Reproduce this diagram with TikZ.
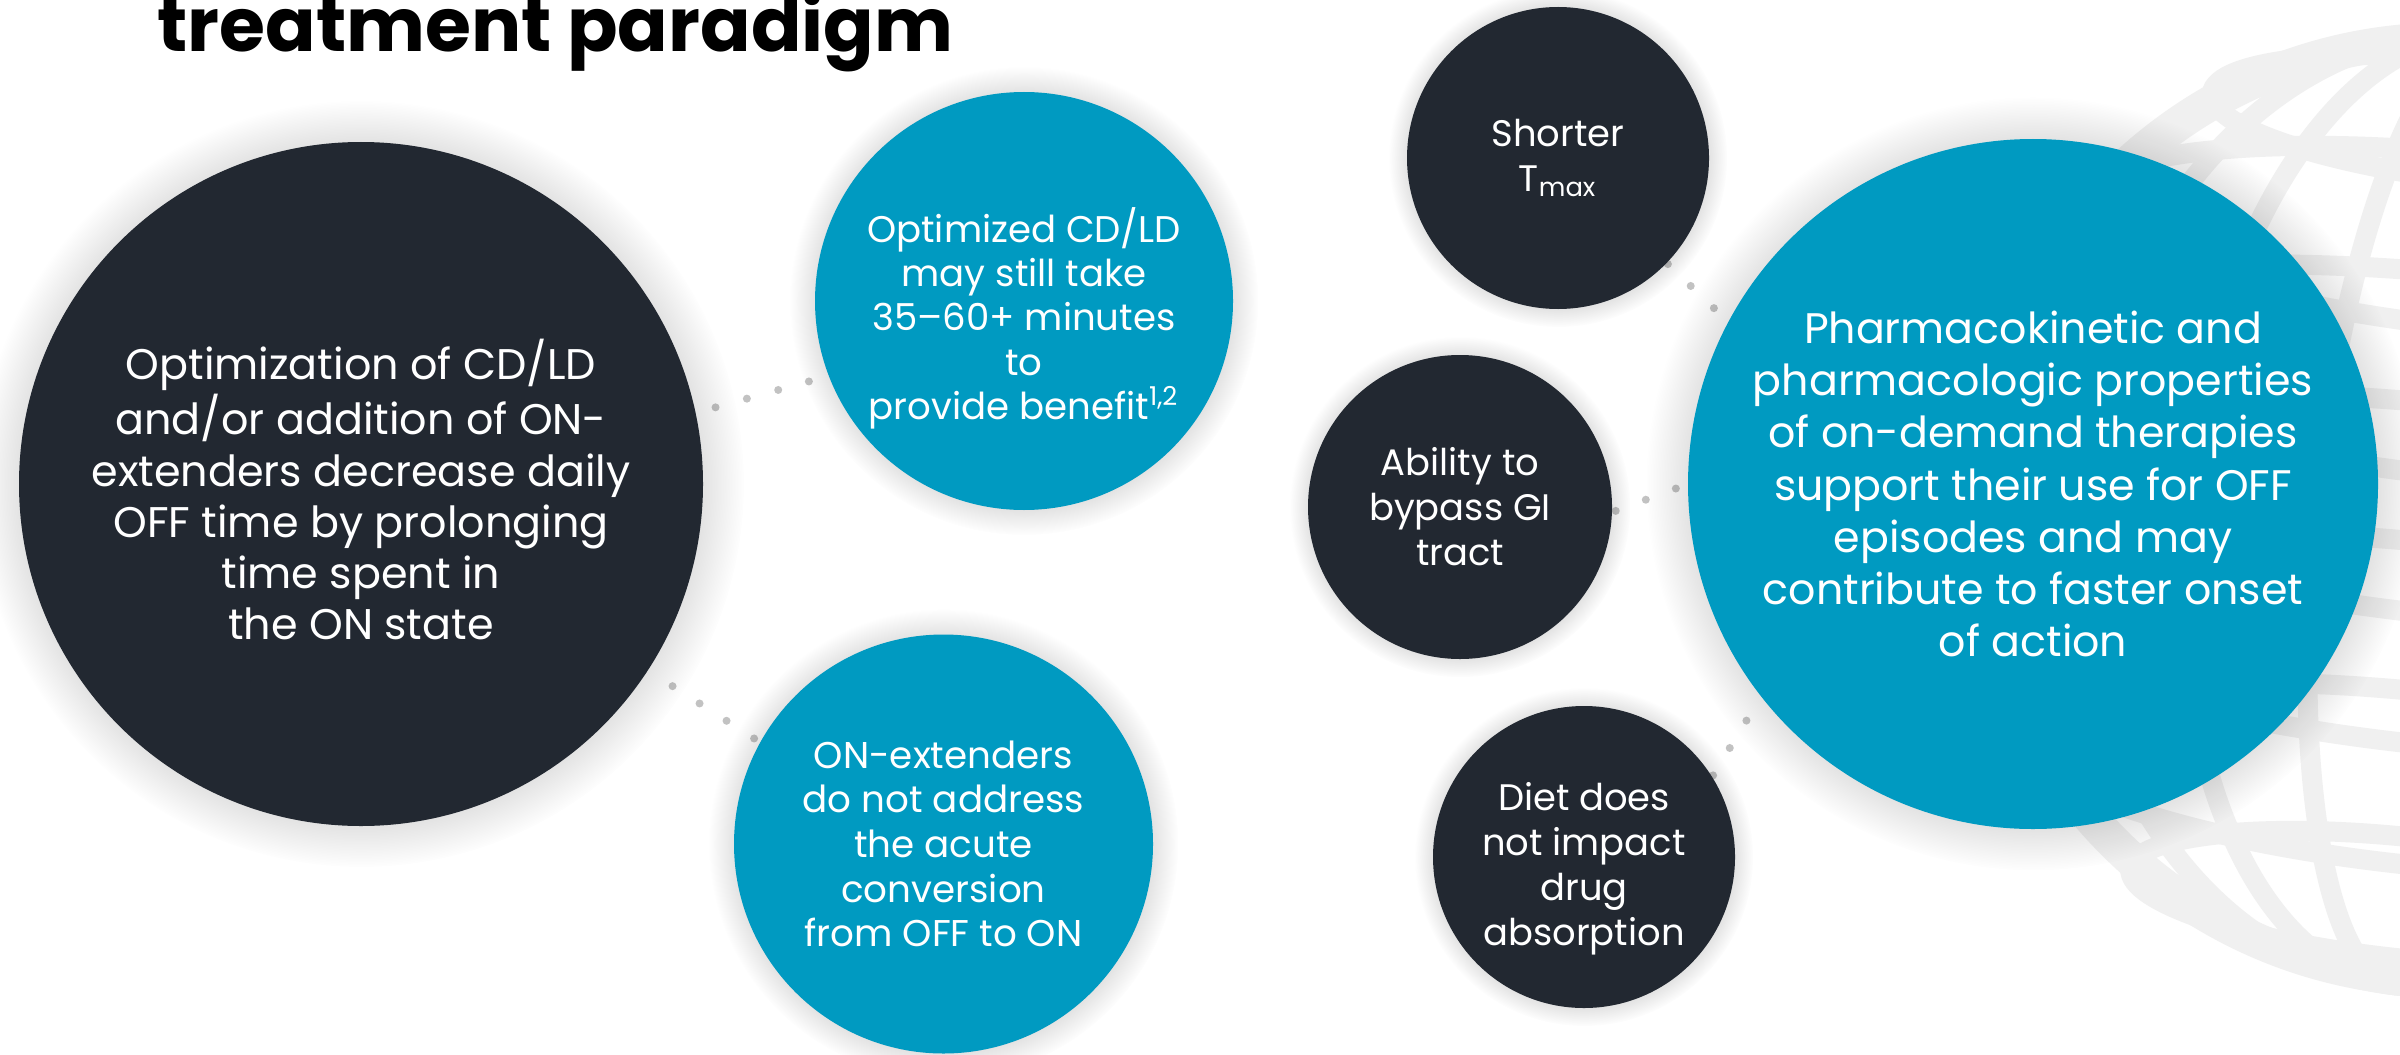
\documentclass[tikz,border=0pt]{standalone}
\usepackage{fontspec}
\setmainfont{Poppins}
\usetikzlibrary{shadows,fadings}

\definecolor{inkdark}{HTML}{222831}
\definecolor{tealblue}{HTML}{009AC1}
\definecolor{dotgrey}{HTML}{C2C2C2}
\definecolor{globegrey}{HTML}{F0F0F0}

\pgfdeclarelayer{back}
\pgfsetlayers{back,main}

\tikzset{
  bubble/.style={circle, inner sep=0pt, outer sep=0pt, text=white, align=center,
    general shadow={shadow scale=1.12, fill=black, opacity=0.15,
      path fading={circle with fuzzy edge 15 percent}}},
  darkbubble/.style={bubble, fill=inkdark},
  bluebubble/.style={bubble, fill=tealblue},
  dot/.style={circle, fill=dotgrey, inner sep=0pt, minimum size=0.08cm},
  globeline/.style={draw=globegrey, line width=0.2cm},
}

\begin{document}
\begin{tikzpicture}
  \useasboundingbox (0,0) rectangle (24,-10.54);

  % title
  \node[anchor=base west, font=\fontsize{21.2}{25}\selectfont\bfseries] (title) at (1.45,-0.52) {treatment paradigm};

  % left group
  \node[darkbubble, minimum size=6.84cm, font=\fontsize{12.2}{14.6}\selectfont] (L) at (3.61,-4.84)
    {\rule{0pt}{14.8pt}Optimization of CD/LD\\ and/or addition of ON-\\ extenders decrease daily\\ OFF time by prolonging\\ time spent in\\ the ON state};
  \node[bluebubble, minimum size=4.18cm, font=\fontsize{10.55}{12.6}\selectfont] (T) at (10.24,-3.01)
    {\rule{0pt}{19.7pt}Optimized CD/LD\\ may still take\\ 35–60+ minutes\\ to\\ provide benefit\textsuperscript{1,2}};
  \node[bluebubble, minimum size=4.19cm, font=\fontsize{10.6}{12.7}\selectfont] (B) at (9.435,-8.44)
    {ON-extenders\\ do not address\\ the acute\\ conversion\\ from OFF to ON};

  % right group
  \node[darkbubble, minimum size=3.02cm, font=\fontsize{10.5}{12.8}\selectfont] (S) at (15.58,-1.58)
    {Shorter\\ T\textsubscript{max}};
  \node[darkbubble, minimum size=3.04cm, font=\fontsize{10.5}{12.8}\selectfont] (A) at (14.60,-5.07)
    {Ability to\\ bypass GI\\ tract};
  \node[darkbubble, minimum size=3.02cm, font=\fontsize{10.5}{12.8}\selectfont] (D) at (15.84,-8.57)
    {\rule{0pt}{14.8pt}Diet does\\ not impact\\ drug\\ absorption};
  \node[bluebubble, minimum size=6.90cm, font=\fontsize{12.16}{14.85}\selectfont] (R) at (20.33,-4.84)
    {Pharmacokinetic and\\ pharmacologic properties\\ of on-demand therapies\\ support their use for OFF\\ episodes and may\\ contribute to faster onset\\ of action};

  \begin{pgfonlayer}{back}
    \fill[white] (0,0) rectangle (24,-10.54);

    % wire globe behind the right bubble
    \begin{scope}
      \clip (0,0) rectangle (24,-10.54);
      \begin{scope}[shift={(24.46,-5.10)}, rotate=-6]
        \draw[globeline, line width=0.35cm] (0,0) circle (4.7);
        \foreach \y in {-3.9,-2.7,-1.35,0,1.35,2.7,3.9}
          \draw[globeline] (0,\y) ellipse ({sqrt(4.78*4.78-\y*\y)} and {0.22*sqrt(4.78*4.78-\y*\y)});
        \foreach \rx in {1.3,2.6,3.7}
          \draw[globeline] (0,0) ellipse ({\rx} and {4.78});
      \end{scope}
    \end{scope}

    % dotted links
    \foreach \p in {0.15,0.385,0.62,0.85} \path (L.12) -- (T.201) node[dot, pos=\p] {};
    \foreach \p in {0.22,0.46,0.70,0.945} \path (L.-33) -- (B.151) node[dot, pos=\p] {};
    \foreach \p in {0.02,0.39,0.765} \path (S.-44) -- (R.152) node[dot, pos=\p] {};
    \foreach \p in {0.05,0.445,0.84} \path (A.-2) -- (R.180) node[dot, pos=\p] {};
    \foreach \p in {0.02,0.36,0.70} \path (D.32) -- (R.218) node[dot, pos=\p] {};
  \end{pgfonlayer}
\end{tikzpicture}
\end{document}
